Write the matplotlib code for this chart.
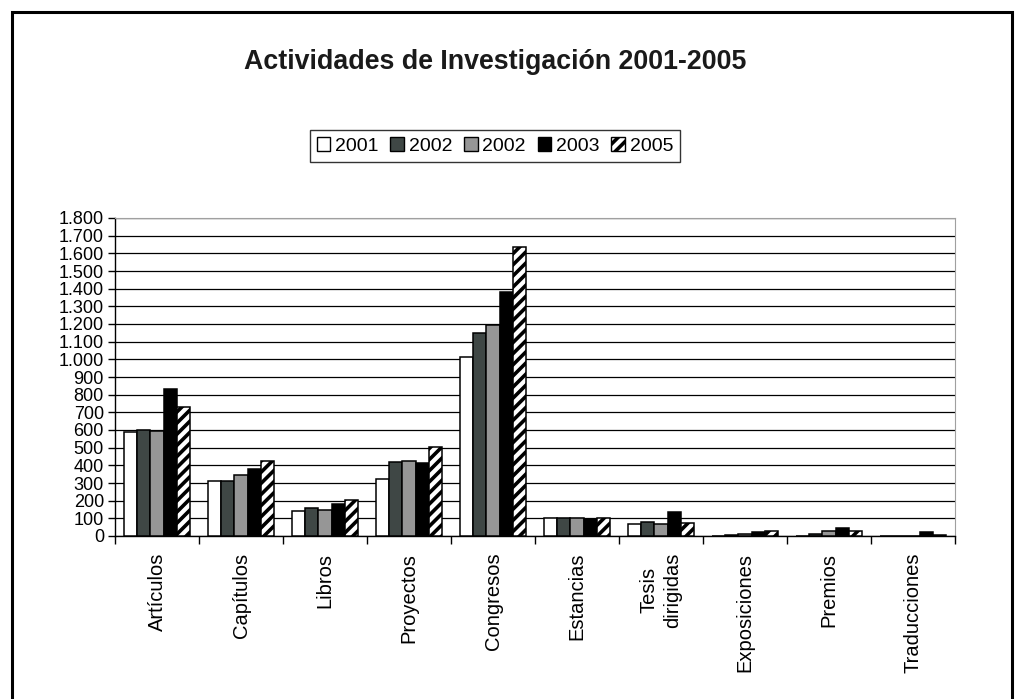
"""Actividades de Investigación 2001-2005: grouped bar chart."""

import numpy as np
import matplotlib
matplotlib.use("Agg", force=True)
import matplotlib.pyplot as plt
from matplotlib.patches import Rectangle
from matplotlib.ticker import FuncFormatter, FixedLocator, NullFormatter

plt.rcParams["font.family"] = ["Liberation Sans", "DejaVu Sans"]
plt.rcParams["hatch.linewidth"] = 2.6

categories = ["Artículos", "Capítulos", "Libros", "Proyectos", "Congresos",
              "Estancias", "Tesis\ndirigidas", "Exposiciones", "Premios",
              "Traducciones"]
series_labels = ["2001", "2002", "2002", "2003", "2005"]

v2001 = [586, 313, 140, 323, 1013, 100, 68, 0, 0, 0]
v2002a = [600, 313, 156, 419, 1150, 100, 77, 5, 11, 0]
v2002b = [594, 345, 148, 427, 1194, 100, 68, 10, 28, 0]
v2003 = [833, 380, 180, 412, 1383, 97, 134, 20, 45, 21]
v2005 = [729, 427, 203, 501, 1636, 100, 72, 28, 28, 5]

series = [v2001, v2002a, v2002b, v2003, v2005]
colors = ["white", "#3f4745", "#969696", "black", "white"]
hatches = [None, None, None, None, "///"]

fig = plt.figure(figsize=(10.24, 6.99), dpi=100)
ax = fig.add_axes([115 / 1024, 1 - 536 / 699, 840 / 1024, 318 / 699])

x = np.arange(len(categories))
width = 0.155
offsets = (np.arange(5) - 2) * width
for vals, off, col, hat, lab in zip(series, offsets, colors, hatches, series_labels):
    ax.bar(x + off, vals, width=width, color=col, edgecolor="black",
           linewidth=1.1, hatch=hat, label=lab, zorder=3)

ax.set_xlim(-0.5, len(categories) - 0.5)
ax.set_ylim(0, 1800)
ax.yaxis.set_major_locator(FixedLocator(np.arange(0, 1801, 100)))
ax.yaxis.set_major_formatter(
    FuncFormatter(lambda v, p: f"{int(v):,}".replace(",", ".")))
ax.grid(True, axis="y", color="black", linewidth=0.9, zorder=0)

ax.xaxis.set_major_locator(FixedLocator(np.arange(-0.5, len(categories), 1.0)))
ax.xaxis.set_major_formatter(NullFormatter())
ax.xaxis.set_minor_locator(FixedLocator(x))
ax.set_xticklabels(categories, minor=True, rotation=90, fontsize=14.5,
                   va="top", ha="center", linespacing=1.3)
ax.tick_params(axis="x", which="minor", length=0, pad=12)
ax.tick_params(axis="x", which="major", direction="out", length=6, width=1)
ax.tick_params(axis="y", direction="out", length=5, width=1, labelsize=13, pad=3)

for side in ("top", "right"):
    ax.spines[side].set_color("#a0a0a0")
for side in ("left", "bottom"):
    ax.spines[side].set_color("black")
    ax.spines[side].set_linewidth(1.0)

fig.text(495 / 1024, 1 - 62 / 699, "Actividades de Investigación 2001-2005",
         ha="center", va="center", fontsize=19.3, fontweight="bold",
         color="#1a1a1a")

leg = fig.legend(loc="center", bbox_to_anchor=(495 / 1024, 1 - 146 / 699),
                 ncol=5, fontsize=14, frameon=True, fancybox=False,
                 edgecolor="black", handlelength=0.7, handleheight=0.7,
                 handletextpad=0.25, columnspacing=0.6, borderpad=0.35)
leg.get_frame().set_linewidth(1.0)
for h in leg.legend_handles:
    h.set_linewidth(1.0)

fig.patches.append(Rectangle((12 / 1024, -0.1), 1000 / 1024, 1.1 - 12 / 699,
                             transform=fig.transFigure, fill=False,
                             edgecolor="black", linewidth=2.2))

fig.savefig("out.png", dpi=100)
